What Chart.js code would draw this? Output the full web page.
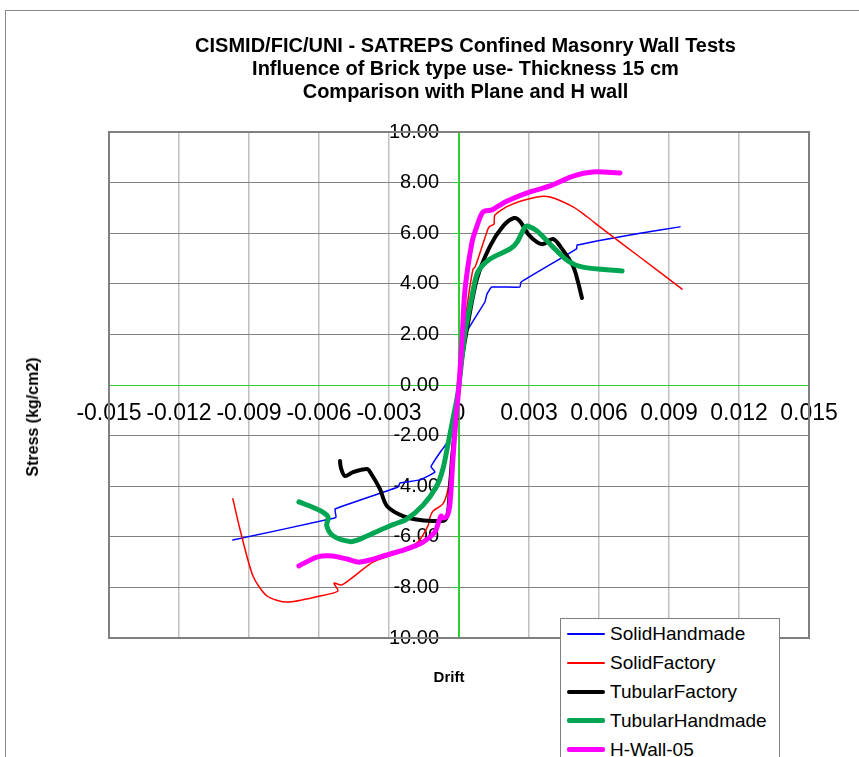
<!DOCTYPE html>
<html>
<head>
<meta charset="utf-8">
<script src="https://cdn.jsdelivr.net/npm/chart.js@4.4.1/dist/chart.umd.min.js"></script>
<style>
  html, body { margin: 0; padding: 0; background: #fff; overflow: hidden; }
  body { width: 859px; height: 757px; position: relative; font-family: Arial, "Liberation Sans", sans-serif; }
  #frame { position: absolute; left: 5px; top: 10px; width: 900px; height: 800px; border: 1px solid #888; }
  #chart { position: absolute; left: 0; top: 0; }
  #title { position: absolute; left: 0; top: 34px; width: 931px; text-align: center; font-weight: bold; font-size: 20px; line-height: 23px; }
  #ytitle { position: absolute; left: 33px; top: 417px; transform: translate(-50%, -50%) rotate(-90deg); font-weight: bold; font-size: 16px; white-space: nowrap; }
  #xtitle { position: absolute; left: 449px; top: 676px; transform: translate(-50%, -50%); font-weight: bold; font-size: 15px; }
  #legend { position: absolute; left: 560px; top: 618px; width: 218px; height: 200px; border: 1px solid #808080; background: #fff; }
  .item { position: absolute; left: 0; height: 29px; width: 218px; }
  .item .sample { position: absolute; left: 6px; width: 38px; top: 50%; }
  .item .label { position: absolute; left: 49px; top: 50%; transform: translateY(-50%); font-size: 19px; white-space: nowrap; }
</style>
</head>
<body>
<div id="frame"></div>
<canvas id="chart" width="859" height="757"></canvas>
<div id="title">CISMID/FIC/UNI - SATREPS Confined Masonry Wall Tests<br>Influence of Brick type use- Thickness 15 cm<br>Comparison with Plane and H wall</div>
<div id="ytitle">Stress (kg/cm2)</div>
<div id="xtitle">Drift</div>
<div id="legend"></div>
<script>
// Envelope curves (negative branch first, then positive)
const solidHandmadeDrift = [-0.00969, -0.00553, -0.00527, -0.00531, -0.00261, -0.00253, -0.00167, -0.00103, -0.0012, -0.00111, -0.00077, -0.00039, -0.00021, 0,
  0.00033, 0.00111, 0.0012, 0.0014, 0.00261, 0.00266, 0.00504, 0.00506, 0.00776, 0.00947];
const solidHandmadeStress = [-6.13, -5.3, -5.22, -4.9, -4.03, -3.87, -3.75, -3.44, -3.24, -3.08, -2.61, -2.13, -1.34, 0,
  2.09, 3.28, 3.6, 3.87, 3.87, 4.07, 5.38, 5.53, 6.0, 6.25];

const solidFactoryDrift = [-0.00969, -0.00939, -0.00883, -0.00823, -0.00737, -0.00596, -0.00519, -0.00536, -0.00501, -0.00369, -0.00253, -0.00176, -0.00133, -0.00124, -0.00111, -0.00069, -0.00047, -0.0003, -0.00013, 0,
  0.00017, 0.00039, 0.0006, 0.00069, 0.00124, 0.00133, 0.0015, 0.00154, 0.00219, 0.00334, 0.0039, 0.00489, 0.0055, 0.00604, 0.00776, 0.00956];
const solidFactoryStress = [-4.5, -5.69, -7.55, -8.34, -8.58, -8.34, -8.14, -7.83, -7.9, -7.0, -6.6, -6.2, -5.57, -5.22, -4.98, -4.7, -4.11, -2.92, -1.34, 0,
  1.82, 3.4, 4.58, 4.66, 6.17, 6.28, 6.36, 6.72, 7.11, 7.43, 7.43, 7.04, 6.64, 6.25, 5.05, 3.79];

const tubularFactoryDrift = [-0.0051, -0.00506, -0.00489, -0.00454, -0.00394, -0.00381, -0.00339, -0.00309, -0.0024, -0.00167, -0.0009, -0.0006, -0.00047, -0.00039, -0.0003, -0.00013, 0,
  0.00013, 0.00034, 0.00077, 0.00133, 0.00189, 0.00236, 0.00261, 0.00296, 0.00334, 0.0036, 0.00403, 0.00433, 0.00489, 0.0051, 0.00527];
const tubularFactoryStress = [-3.0, -3.28, -3.6, -3.44, -3.32, -3.44, -4.11, -4.78, -5.18, -5.34, -5.38, -5.34, -5.02, -4.11, -2.92, -1.34, 0,
  1.03, 2.21, 4.19, 5.49, 6.28, 6.6, 6.48, 5.97, 5.65, 5.57, 5.77, 5.49, 4.7, 4.07, 3.44];

const tubularHandmadeDrift = [-0.00686, -0.00596, -0.00561, -0.00567, -0.0054, -0.00467, -0.00424, -0.00335, -0.00283, -0.00224, -0.00154, -0.00096, -0.00069, -0.00047, -0.00026, -0.00009, 0,
  0.00026, 0.00056, 0.00081, 0.00133, 0.00219, 0.00249, 0.00283, 0.00296, 0.00334, 0.00403, 0.00467, 0.00531, 0.00699];
const tubularHandmadeStress = [-4.62, -4.96, -5.22, -5.56, -5.96, -6.19, -6.09, -5.72, -5.52, -5.3, -4.75, -4.0, -3.32, -2.33, -1.34, -0.55, 0,
  2.09, 3.52, 4.47, 4.98, 5.38, 5.65, 6.25, 6.28, 6.09, 5.45, 4.9, 4.66, 4.51];

const hWallDrift = [-0.00686, -0.00609, -0.00544, -0.0048, -0.00424, -0.00309, -0.00223, -0.00154, -0.00103, -0.0009, -0.00077, -0.00069, -0.00051, -0.00039, -0.00026, -0.00013, 0,
  0.00013, 0.00026, 0.00056, 0.00077, 0.00103, 0.00141, 0.00163, 0.00206, 0.00304, 0.0039, 0.00489, 0.00574, 0.0069];
const hWallStress = [-7.15, -6.8, -6.76, -6.88, -7.0, -6.72, -6.48, -6.21, -5.81, -5.49, -5.18, -5.26, -5.18, -4.7, -2.92, -1.34, 0,
  1.82, 3.79, 5.65, 6.28, 6.84, 6.92, 7.04, 7.27, 7.63, 7.87, 8.26, 8.42, 8.38];

const seriesNames = ['SolidHandmade', 'SolidFactory', 'TubularFactory', 'TubularHandmade', 'H-Wall-05'];

const xMin = -0.015, xMax = 0.015, xStep = 0.003;
const yMin = -10, yMax = 10, yStep = 2;

function points(xs, ys) {
  return xs.map((x, i) => ({ x: x, y: ys[i] }));
}

const green = '#2fcf2f';

const datasets = [
  { label: seriesNames[0], data: points(solidHandmadeDrift, solidHandmadeStress), borderColor: '#0000ff', borderWidth: 1.5, tension: 0.1, order: 5 },
  { label: seriesNames[1], data: points(solidFactoryDrift, solidFactoryStress), borderColor: '#ff0000', borderWidth: 1.5, tension: 0.25, order: 4 },
  { label: seriesNames[2], data: points(tubularFactoryDrift, tubularFactoryStress), borderColor: '#000000', borderWidth: 4, tension: 0.3, order: 3 },
  { label: seriesNames[3], data: points(tubularHandmadeDrift, tubularHandmadeStress), borderColor: '#00a651', borderWidth: 5, tension: 0.3, order: 2 },
  { label: seriesNames[4], data: points(hWallDrift, hWallStress), borderColor: '#ff00ff', borderWidth: 5, tension: 0.3, order: 1 }
];
datasets.forEach(d => { d.showLine = true; d.pointRadius = 0; d.fill = false; d.borderCapStyle = 'round'; d.borderJoinStyle = 'round'; });

// gray frame round the plot area
const plotFrame = {
  id: 'plotFrame',
  beforeDatasetsDraw(chart) {
    const { ctx, chartArea: a } = chart;
    ctx.save();
    ctx.strokeStyle = '#808080';
    ctx.lineWidth = 2;
    ctx.strokeRect(a.left, a.top, a.right - a.left, a.bottom - a.top);
    ctx.restore();
  }
};

const isZero = v => Math.abs(v) < 1e-9;

const chart = new Chart(document.getElementById('chart'), {
  type: 'scatter',
  data: { datasets: datasets },
  options: {
    responsive: false,
    animation: false,
    layout: { padding: { left: 109, right: 50, top: 132, bottom: 119 } },
    plugins: {
      legend: { display: false },
      title: { display: false },
      tooltip: { enabled: false }
    },
    scales: {
      x: {
        type: 'linear',
        min: xMin, max: xMax,
        position: { y: 0 },
        afterFit: (scale) => { scale.height = 0; },
        border: { color: green, width: 1 },
        grid: {
          color: (c) => isZero(c.tick.value) ? green : '#c0c0c0',
          lineWidth: 1.5,
          tickColor: 'rgba(0,0,0,0)',
          tickLength: 6
        },
        ticks: {
          stepSize: xStep,
          autoSkip: false,
          maxRotation: 0,
          padding: 9,
          color: '#000',
          font: { family: 'Arial, "Liberation Sans"', size: 23 },
          callback: (v) => isZero(v) ? '0' : Number(v).toFixed(3)
        }
      },
      y: {
        type: 'linear',
        min: yMin, max: yMax,
        position: { x: 0 },
        afterFit: (scale) => { scale.width = 0; },
        border: { color: green, width: 1 },
        grid: {
          color: (c) => isZero(c.tick.value) ? green : '#808080',
          lineWidth: 1,
          tickColor: green,
          tickLength: 6
        },
        ticks: {
          stepSize: yStep,
          padding: 12,
          color: '#000',
          font: { family: 'Arial, "Liberation Sans"', size: 20 },
          // labels sit right-aligned on the axis line, so pad them with two en spaces
          callback: (v) => Number(v).toFixed(2) + '\u2002\u2002'
        }
      }
    }
  },
  plugins: [plotFrame]
});

// legend drawn as html, from the datasets
const legend = document.getElementById('legend');
datasets.forEach((d, i) => {
  const row = document.createElement('div');
  row.className = 'item';
  row.style.top = (i * 29) + 'px';
  const s = document.createElement('div');
  s.className = 'sample';
  s.style.height = Math.max(2, d.borderWidth) + 'px';
  s.style.marginTop = (-Math.max(2, d.borderWidth) / 2) + 'px';
  s.style.background = d.borderColor;
  s.style.borderRadius = '2px';
  const t = document.createElement('div');
  t.className = 'label';
  t.textContent = d.label;
  row.appendChild(s);
  row.appendChild(t);
  legend.appendChild(row);
});
</script>
</body>
</html>
